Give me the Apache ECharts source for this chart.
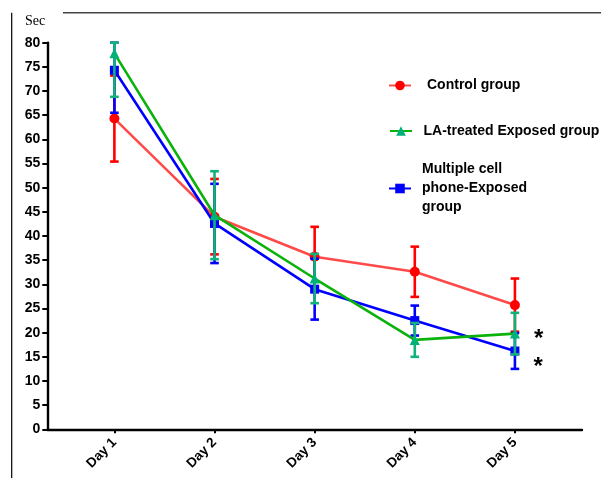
<!DOCTYPE html>
<html>
<head>
<meta charset="utf-8">
<script src="https://cdn.jsdelivr.net/npm/echarts@6/dist/echarts.min.js"></script>
<style>
html,body{margin:0;padding:0;background:#fff;}
#c{width:601px;height:478px;}
</style>
</head>
<body>
<div id="c"></div>
<script>
// ---- data ----
const categories = ['Day 1', 'Day 2', 'Day 3', 'Day 4', 'Day 5'];
const yTicks = [0, 80, 5]; // min, max, interval
const controlMean = [64.3, 44.0, 35.7, 32.6, 25.7];
const controlSD   = [8.9, 7.8, 6.2, 5.2, 5.5];
const laMean      = [77.8, 44.3, 31.2, 18.5, 19.8];
const laSD        = [9.0, 9.1, 5.1, 3.5, 4.3];
const phoneMean   = [74.3, 42.6, 29.0, 22.5, 16.2];
const phoneSD     = [8.8, 8.2, 6.3, 3.1, 3.7];
const seriesNames = ['Control group', 'LA-treated Exposed group', 'Multiple cell phone-Exposed group'];
const yAxisName = 'Sec';
const starMarks = ['*', '*'];

const Y_MIN = yTicks[0], Y_MAX = yTicks[1];
const FONT = 'Liberation Sans';

function pts(mean) { return mean.map((m, i) => [i + 1, m]); }
function bars(mean, sd) { return mean.map((m, i) => [i + 1, m - sd[i], m + sd[i]]); }

function errSeries(mean, sd, color, z) {
  return {
    type: 'custom',
    z: z,
    data: bars(mean, sd),
    encode: { x: 0, y: [1, 2] },
    renderItem: function (params, api) {
      const x = api.value(0);
      const lo = Math.max(api.value(1), Y_MIN);
      const hi = Math.min(api.value(2), Y_MAX);
      const p1 = api.coord([x, hi]);
      const p2 = api.coord([x, lo]);
      const hw = 4.3;
      const st = { stroke: color, lineWidth: 2.6 };
      return {
        type: 'group',
        children: [
          { type: 'line', shape: { x1: p1[0], y1: p1[1], x2: p2[0], y2: p2[1] }, style: st },
          { type: 'line', shape: { x1: p1[0] - hw, y1: p1[1], x2: p1[0] + hw, y2: p1[1] }, style: st },
          { type: 'line', shape: { x1: p2[0] - hw, y1: p2[1], x2: p2[0] + hw, y2: p2[1] }, style: st }
        ]
      };
    }
  };
}

function lineSeries(name, mean, lineColor, markColor, symbol, size, z, star, starOffset) {
  const data = pts(mean).map((p, i) => {
    if (star && i === mean.length - 1) {
      return {
        value: p,
        label: {
          show: true, formatter: star, position: 'right', distance: 14,
          offset: starOffset, color: '#000', fontSize: 24, fontWeight: 'bold', fontFamily: FONT
        }
      };
    }
    return p;
  });
  return {
    name: name, type: 'line', z: z, data: data,
    symbol: symbol, symbolSize: size, showSymbol: true,
    lineStyle: { color: lineColor, width: 2.6 },
    itemStyle: { color: markColor },
    emphasis: { disabled: true },
    animation: false
  };
}

const chart = echarts.init(document.getElementById('c'), null, { renderer: 'canvas' });
const legendText = (pad) => ({ fontSize: 14, fontWeight: 'bold', fontFamily: FONT, color: '#000', lineHeight: 19, padding: [0, 0, 0, pad] });

chart.setOption({
  animation: false,
  backgroundColor: '#fff',
  grid: { left: 47.3, right: 19, top: 42.7, bottom: 48.7, containLabel: false },
  xAxis: {
    type: 'value', min: 0.33, max: 5.67,
    splitLine: { show: false },
    axisLine: { show: true, lineStyle: { color: '#000', width: 2.4 } },
    axisTick: { show: true, customValues: [1, 2, 3, 4, 5], length: 4, lineStyle: { color: '#000', width: 2 } },
    axisLabel: {
      customValues: [1, 2, 3, 4, 5],
      formatter: v => categories[Math.round(v) - 1],
      rotate: 45, margin: 11, color: '#000', fontSize: 13.5, fontWeight: 'bold', fontFamily: FONT
    }
  },
  yAxis: {
    type: 'value', min: Y_MIN, max: Y_MAX, interval: yTicks[2],
    name: yAxisName, nameLocation: 'end', nameGap: 14,
    nameTextStyle: { fontFamily: 'Liberation Serif', fontSize: 14, color: '#000', align: 'right', padding: [0, 2, 0, 0] },
    splitLine: { show: false },
    axisLine: { show: true, lineStyle: { color: '#000', width: 2.4 } },
    axisTick: { show: true, length: 5, lineStyle: { color: '#000', width: 2 } },
    axisLabel: { margin: 7, color: '#000', fontSize: 14, fontWeight: 'bold', fontFamily: FONT }
  },
  legend: [
    { data: [seriesNames[0]], left: 388, top: 76, padding: 0, itemWidth: 22, itemHeight: 12,
      textStyle: legendText(11), selectedMode: false },
    { data: [seriesNames[1]], left: 389, top: 121.5, padding: 0, itemWidth: 22, itemHeight: 12,
      textStyle: legendText(6.5), selectedMode: false },
    { data: [seriesNames[2]], left: 388, top: 160, padding: 0, itemWidth: 22, itemHeight: 12,
      textStyle: legendText(6), selectedMode: false,
      formatter: () => 'Multiple cell\nphone-Exposed\ngroup' }
  ],
  graphic: [
    { type: 'line', shape: { x1: 63, y1: 12.7, x2: 601, y2: 12.7 }, style: { stroke: '#444', lineWidth: 1.6 }, silent: true },
    { type: 'line', shape: { x1: 11.7, y1: 12.7, x2: 11.7, y2: 478 }, style: { stroke: '#000', lineWidth: 1.2 }, silent: true }
  ],
  series: [
    lineSeries(seriesNames[0], controlMean, '#ff4a4a', '#ff0000', 'circle', 10, 2),
    errSeries(controlMean, controlSD, '#ff0000', 2),
    lineSeries(seriesNames[2], phoneMean, '#0000ff', '#0000ff', 'rect', 9, 3, starMarks[1], [0, 16]),
    errSeries(phoneMean, phoneSD, '#0000ff', 3),
    lineSeries(seriesNames[1], laMean, '#0cb20c', '#00b27a', 'triangle', 10, 4, starMarks[0], [0, 6]),
    errSeries(laMean, laSD, '#12b37a', 4)
  ]
});
</script>
</body>
</html>
